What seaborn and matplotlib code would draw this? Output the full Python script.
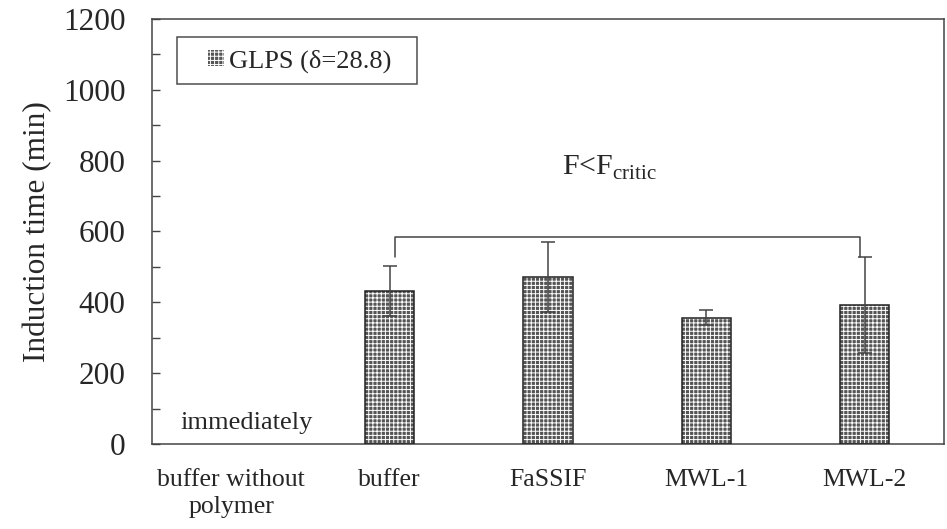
import matplotlib
matplotlib.use("Agg")
import matplotlib.pyplot as plt
from matplotlib.patches import Patch, Rectangle
from matplotlib.legend_handler import HandlerPatch
from matplotlib.ticker import MultipleLocator
import seaborn as sns
import pandas as pd

categories = ["buffer without\npolymer", "buffer", "FaSSIF", "MWL-1", "MWL-2"]
induction_time = [0, 432, 472, 357, 393]
induction_sd = [0, 71, 98, 20, 135]
series_label = "GLPS (\u03b4=28.8)"

sns.set_theme(style="white")
plt.rcParams["font.family"] = ["Liberation Serif", "DejaVu Serif"]
plt.rcParams["mathtext.fontset"] = "custom"
plt.rcParams["mathtext.rm"] = "Liberation Serif"
plt.rcParams["hatch.linewidth"] = 0.7

df = pd.DataFrame({"medium": categories, "time": induction_time, "sd": induction_sd})

fig = plt.figure(figsize=(9.47, 5.29), dpi=100)
ax = fig.add_axes([0.1605, 0.1607, 0.8363, 0.8034])

bar_face = "#555555"
sns.barplot(data=df, x="medium", y="time", order=categories, width=0.31,
            color=bar_face, saturation=1, errorbar=None, ax=ax,
            edgecolor="white", linewidth=0, hatch="++++")

# crisp dark outline around each non-empty bar
for p in list(ax.patches):
    if p.get_height() > 0:
        ax.add_patch(Rectangle(p.get_xy(), p.get_width(), p.get_height(),
                               fill=False, edgecolor="#222222", linewidth=1.1, zorder=3))

xpos = [i for i, v in enumerate(induction_time) if v > 0]
ax.errorbar(xpos, [induction_time[i] for i in xpos], yerr=[induction_sd[i] for i in xpos],
            fmt="none", ecolor="#444444", elinewidth=1.1, capsize=4.7, capthick=1.1, zorder=4)

ax.set_ylim(0, 1200)
ax.set_xlim(-0.5, 4.5)
ax.yaxis.set_major_locator(MultipleLocator(200))
ax.yaxis.set_minor_locator(MultipleLocator(100))
ax.tick_params(axis="y", which="both", direction="in", left=True, right=False,
               length=6, width=1.0, color="#444444", labelsize=22.5, pad=19)
ax.tick_params(axis="x", which="both", bottom=False, top=False, labelsize=18.5, pad=12)
ax.set_xlabel("")
ax.set_ylabel("Induction time (min)", fontsize=22.5, labelpad=8)
for s in ax.spines.values():
    s.set_visible(True)
    s.set_color("#444444")
    s.set_linewidth(1.1)
for lbl in ax.get_xticklabels():
    lbl.set_linespacing(1.3)

ax.text(0.095, 60, "immediately", ha="center", va="center", fontsize=19)

# bracket over the four polymer media
bx0, bx1, by_top, by_end = 1.035, 3.97, 585, 527
ax.plot([bx0, bx0, bx1, bx1], [by_end, by_top, by_top, by_end], color="#444444",
        lw=1.1, solid_joinstyle="round", solid_capstyle="round")
ax.text(2.39, 760, r"F<F$_{\mathregular{critic}}$", ha="center", va="baseline", fontsize=21.5)


def right_square(legend, orig_handle, xdescent, ydescent, width, height, fontsize):
    side = height
    return Rectangle((width - side - xdescent, -ydescent), side, side)


handle = Patch(facecolor=bar_face, edgecolor="white", hatch="++++", linewidth=0)
leg = ax.legend([handle], [series_label], loc="upper left", mode="expand",
                bbox_to_anchor=(0.0316, 0.0, 0.303, 0.957), fontsize=19,
                frameon=True, fancybox=False, borderpad=0.45, borderaxespad=0,
                handlelength=1.33, handleheight=0.53, handletextpad=0.19,
                handler_map={Patch: HandlerPatch(patch_func=right_square)})
leg.get_frame().set_edgecolor("#222222")
leg.get_frame().set_linewidth(1.1)

fig.savefig("out.png", dpi=100)
